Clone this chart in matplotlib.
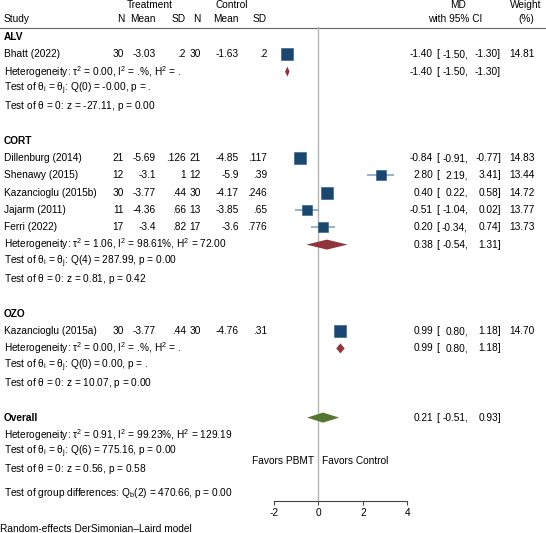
import matplotlib
matplotlib.use("Agg")
import matplotlib.pyplot as plt

plt.rcParams['font.family'] = ['Liberation Sans', 'DejaVu Sans']
plt.rcParams['axes.unicode_minus'] = False
plt.rcParams['mathtext.default'] = 'regular'

# ---------------- data ----------------
groups = ["ALV", "CORT", "OZO"]
studies = [["Bhatt (2022)"],
           ["Dillenburg (2014)", "Shenawy (2015)", "Kazancioglu (2015b)", "Jajarm (2011)", "Ferri (2022)"],
           ["Kazancioglu (2015a)"]]
n_t = [[30], [21, 12, 30, 11, 17], [30]]
mean_t = [[-3.03], [-5.69, -3.1, -3.77, -4.36, -3.4], [-3.77]]
sd_t = [[.2], [.126, 1, .44, .66, .82], [.44]]
n_c = [[30], [21, 12, 30, 13, 17], [30]]
mean_c = [[-1.63], [-4.85, -5.9, -4.17, -3.85, -3.6], [-4.76]]
sd_c = [[.2], [.117, .39, .246, .65, .776], [.31]]
md = [[-1.40], [-0.84, 2.80, 0.40, -0.51, 0.20], [0.99]]
ci_lo = [[-1.50], [-0.91, 2.19, 0.22, -1.04, -0.34], [0.80]]
ci_hi = [[-1.30], [-0.77, 3.41, 0.58, 0.02, 0.74], [1.18]]
weight = [[14.81], [14.83, 13.44, 14.72, 13.77, 13.73], [14.70]]

group_md = [-1.40, 0.38, 0.99]
group_lo = [-1.50, -0.54, 0.80]
group_hi = [-1.30, 1.31, 1.18]
group_het = [r"Heterogeneity: $\tau^2$ = 0.00, $I^2$ = .%, $H^2$ = .",
             r"Heterogeneity: $\tau^2$ = 1.06, $I^2$ = 98.61%, $H^2$ = 72.00",
             r"Heterogeneity: $\tau^2$ = 0.00, $I^2$ = .%, $H^2$ = ."]
group_q = [r"Test of $\theta_i$ = $\theta_j$: Q(0) = -0.00, p = .",
           r"Test of $\theta_i$ = $\theta_j$: Q(4) = 287.99, p = 0.00",
           r"Test of $\theta_i$ = $\theta_j$: Q(0) = 0.00, p = ."]
group_z = [r"Test of $\theta$ = 0: z = -27.11, p = 0.00",
           r"Test of $\theta$ = 0: z = 0.81, p = 0.42",
           r"Test of $\theta$ = 0: z = 10.07, p = 0.00"]

overall_md, overall_lo, overall_hi = 0.21, -0.51, 0.93
overall_het = r"Heterogeneity: $\tau^2$ = 0.91, $I^2$ = 99.23%, $H^2$ = 129.19"
overall_q = r"Test of $\theta_i$ = $\theta_j$: Q(6) = 775.16, p = 0.00"
overall_z = r"Test of $\theta$ = 0: z = 0.56, p = 0.58"
group_diff = r"Test of group differences: $Q_b$(2) = 470.66, p = 0.00"
xticks = [-2, 0, 2, 4]
footer = "Random-effects DerSimonian\u2013Laird model"

# ---------------- style ----------------
FS = 7.3
NAVY = "#1a476f"
CI_COL = "#7f9dbd"
MAROON = "#90353b"
GREEN = "#55752f"
ZERO = "#b4b4b4"

W, H = 546, 533
fig = plt.figure(figsize=(W / 100, H / 100), dpi=100)
ax = fig.add_axes([0, 0, 1, 1])
ax.set_xlim(0, W)
ax.set_ylim(H, 0)
ax.axis("off")

AX_TOP, AX_BOT = 27, 501
X_M2, X_4 = 274, 407.3
fax = fig.add_axes([X_M2 / W, (H - AX_BOT) / H, (X_4 - X_M2) / W, (AX_BOT - AX_TOP) / H])
fax.set_xlim(-2, 4)
fax.set_ylim(AX_BOT, AX_TOP)
fax.patch.set_alpha(0)
for s in ("top", "left", "right"):
    fax.spines[s].set_visible(False)
fax.spines["bottom"].set_color("#444444")
fax.spines["bottom"].set_linewidth(0.8)
fax.set_yticks([])
fax.set_xticks(xticks)
fax.set_xticklabels([str(t) for t in xticks], fontsize=FS)
fax.tick_params(axis="x", length=3, width=0.8, color="#444444", pad=2)
fax.axvline(0, color=ZERO, lw=1.0, zorder=1)


def fmt(v):
    s = f"{v:g}"
    if s.startswith("0."):
        s = s[1:]
    elif s.startswith("-0."):
        s = "-" + s[2:]
    return s


def txt(x, y, s, ha="left", **kw):
    ax.text(x, y, s, ha=ha, va="center", fontsize=FS, **kw)


# column positions
C_STUDY = 4
C_NT, C_MT, C_ST = 124, 156, 186
C_NC, C_MC, C_SC = 201, 239, 267
C_MD, C_BR, C_LO, C_HI, C_W = 433, 436, 468, 501, 535

# header
txt(150, 5, "Treatment", ha="center")
txt(232, 5, "Control", ha="center")
txt(458, 5, "MD", ha="center")
txt(526, 5, "Weight", ha="center")
txt(C_STUDY, 19, "Study")
for x, s in [(C_NT, "N"), (C_MT, "Mean"), (C_ST, "SD"), (C_NC, "N"), (C_MC, "Mean"), (C_SC, "SD")]:
    txt(x, 19, s, ha="right")
txt(455, 19, "with 95% CI", ha="center")
txt(526, 19, "(%)", ha="center")
ax.plot([0, W], [27.5, 27.5], color="#666666", lw=0.8)


def ci_text(y, m, lo, hi, w=None):
    txt(C_MD, y, f"{m:.2f}", ha="right")
    txt(C_BR, y, "[")
    txt(C_LO, y, f"{lo:.2f},", ha="right")
    txt(C_HI, y, f"{hi:.2f}]", ha="right")
    if w is not None:
        txt(C_W, y, f"{w:.2f}", ha="right")


STEP = 17.3
row = 0
y0 = 37
for g in range(len(groups)):
    y = y0 + row * STEP
    txt(C_STUDY, y, groups[g], fontweight="bold")
    row += 1
    for i in range(len(studies[g])):
        y = y0 + row * STEP
        txt(C_STUDY, y, studies[g][i])
        txt(C_NT, y, str(n_t[g][i]), ha="right")
        txt(C_MT, y, fmt(mean_t[g][i]), ha="right")
        txt(C_ST, y, fmt(sd_t[g][i]), ha="right")
        txt(C_NC, y, str(n_c[g][i]), ha="right")
        txt(C_MC, y, fmt(mean_c[g][i]), ha="right")
        txt(C_SC, y, fmt(sd_c[g][i]), ha="right")
        fax.plot([ci_lo[g][i], ci_hi[g][i]], [y, y], color=CI_COL, lw=1.1, zorder=2,
                 solid_capstyle="butt", clip_on=False)
        side = 8.2 * (weight[g][i] / 14.83) ** 0.5
        fax.plot([md[g][i]], [y], marker="s", ms=side, color=NAVY, mec="#2b5a86",
                 mew=0.4, zorder=3, clip_on=False)
        ci_text(y, md[g][i], ci_lo[g][i], ci_hi[g][i], weight[g][i])
        row += 1
    y = y0 + row * STEP
    txt(C_STUDY, y, group_het[g])
    fax.fill([group_lo[g], group_md[g], group_hi[g], group_md[g]],
             [y, y - 5, y, y + 5], color=MAROON, lw=0, zorder=3, clip_on=False)
    ci_text(y, group_md[g], group_lo[g], group_hi[g])
    row += 1
    txt(C_STUDY, y0 + row * STEP, group_q[g])
    row += 1
    txt(C_STUDY, y0 + row * STEP, group_z[g])
    row += 2

y = y0 + row * STEP
txt(C_STUDY, y, "Overall", fontweight="bold")
fax.fill([overall_lo, overall_md, overall_hi, overall_md], [y, y - 5, y, y + 5],
         color=GREEN, lw=0, zorder=3, clip_on=False)
ci_text(y, overall_md, overall_lo, overall_hi)
row += 1
txt(C_STUDY, y0 + row * STEP, overall_het)
row += 1
txt(C_STUDY, y0 + row * STEP, overall_q)
y_fav = y0 + (row + 0.5) * STEP
row += 1
txt(C_STUDY, y0 + row * STEP, overall_z)
txt(C_STUDY, y0 + row * STEP + 23, group_diff)

txt(314, y_fav, "Favors PBMT", ha="right")
txt(322, y_fav, "Favors Control")
txt(0, 529, footer)

fig.savefig("out.png", dpi=100)
